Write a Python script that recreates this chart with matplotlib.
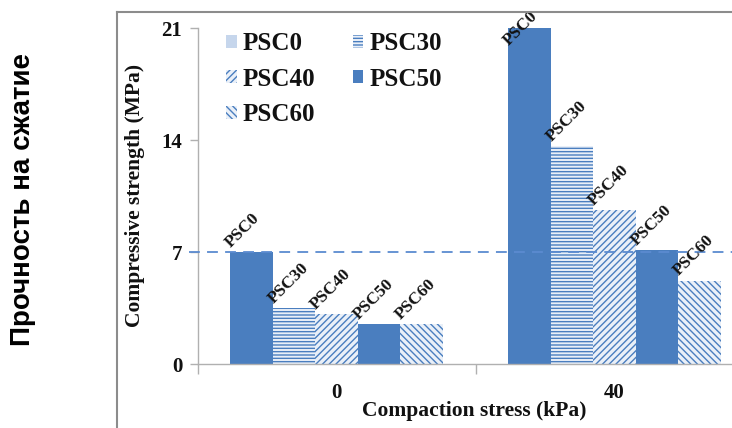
import matplotlib
matplotlib.use("Agg")
import matplotlib.pyplot as plt
from matplotlib.patches import Patch
from matplotlib.lines import Line2D
import numpy as np

# ---- data ----
groups = ["0", "40"]
series = ["PSC0", "PSC30", "PSC40", "PSC50", "PSC60"]
values = {
    "PSC0":  [7.0, 21.0],
    "PSC30": [3.5, 13.6],
    "PSC40": [3.1, 9.6],
    "PSC50": [2.5, 7.1],
    "PSC60": [2.5, 5.2],
}
yticks = [0, 7, 14, 21]
ref_line = 7.0

# ---- styles ----
blue = "#4a7ebf"
light = "#eaf0f8"
styles = {
    "PSC0":  dict(facecolor=blue, edgecolor=blue, hatch=None),
    "PSC30": dict(facecolor=light, edgecolor=blue, hatch="-----"),
    "PSC40": dict(facecolor=light, edgecolor=blue, hatch="/////"),
    "PSC50": dict(facecolor=blue, edgecolor=blue, hatch=None),
    "PSC60": dict(facecolor=light, edgecolor=blue, hatch="\\\\\\\\\\"),
}
legend_styles = dict(styles)
legend_styles["PSC0"] = dict(facecolor="#c6d6ec", edgecolor="#c6d6ec", hatch=None)

plt.rcParams["hatch.linewidth"] = 1.0
serif = "Liberation Serif"

W, H = 732, 428
fig = plt.figure(figsize=(W / 100, H / 100), dpi=100)

def fx(px):
    return px / W

def fy(py):
    return 1 - py / H

ax = fig.add_axes([fx(197.5), fy(364), fx(753.5) - fx(197.5), fy(28) - fy(364)])

x = np.arange(len(groups))
bw = 0.153
for i, s in enumerate(series):
    pos = x + (i - 2) * bw
    st = styles[s]
    ax.bar(pos, values[s], width=bw, facecolor=st["facecolor"], edgecolor=st["edgecolor"],
           hatch=st["hatch"], linewidth=0, zorder=2)
    for p, v in zip(pos, values[s]):
        # the label of the tallest bar sits over the bar top to stay inside the frame
        dy = -1.3 if v >= 20 else 0.1
        ax.text(p - bw / 2 + 0.012, v + dy, s, rotation=45, rotation_mode="anchor",
                ha="left", va="bottom", fontsize=12.5, fontweight="bold", family=serif,
                color="#111111", zorder=4)

ax.axhline(ref_line, xmin=-0.015, xmax=1, color="#5b8bd0", lw=1.3, ls=(0, (6, 4)),
           clip_on=False, zorder=3)

ax.set_xlim(-0.5, 1.5)
ax.set_ylim(0, 21)
ax.set_yticks(yticks)
ax.set_yticklabels([str(t) for t in yticks])
ax.set_xticks(x)
ax.set_xticklabels(groups)
ax.set_xticks([-0.5, 0.5, 1.5], minor=True)
ax.tick_params(axis="x", which="major", length=0, pad=14)
ax.tick_params(axis="x", which="minor", length=7, color="#b0b0b0", width=1)
ax.tick_params(axis="y", which="major", length=6, color="#b0b0b0", width=1, pad=5)
for lab in ax.get_xticklabels() + ax.get_yticklabels():
    lab.set_fontfamily(serif)
    lab.set_fontweight("bold")
    lab.set_fontsize(15)
    lab.set_color("#111111")

for sp in ["top", "right"]:
    ax.spines[sp].set_visible(False)
for sp in ["left", "bottom"]:
    ax.spines[sp].set_color("#b0b0b0")
    ax.spines[sp].set_linewidth(1)

# axis labels placed in figure coordinates
fig.text(fx(474), fy(411), "Compaction stress (kPa)", ha="center", va="center",
         fontsize=15.5, fontweight="bold", family=serif, color="#111111")
fig.text(fx(135), fy(195), "Compressive strength (MPa)", ha="center", va="center",
         rotation=90, fontsize=15.5, fontweight="bold", family=serif, color="#111111")

# Russian label outside the embedded image
fig.text(fx(23), fy(199), "Прочность на сжатие", ha="center", va="center", rotation=90,
         fontsize=20, fontweight="bold", family=["Liberation Sans", "DejaVu Sans"],
         color="black")

# gray border of the embedded image
fig.add_artist(Line2D([fx(117), 1.0], [fy(12), fy(12)], color="#8c8c8c", lw=1.5,
                      transform=fig.transFigure))
fig.add_artist(Line2D([fx(117), fx(117)], [fy(12), 0.0], color="#8c8c8c", lw=1.5,
                      transform=fig.transFigure))

# legend (row-wise order)
order = ["PSC0", "PSC40", "PSC60", "PSC30", "PSC50"]
handles = []
for s in order:
    st = legend_styles[s]
    handles.append(Patch(facecolor=st["facecolor"], edgecolor=st["edgecolor"],
                         hatch=st["hatch"], linewidth=0, label=s))
leg = fig.legend(handles=handles, loc="upper left", bbox_to_anchor=(fx(226), fy(32)),
                 bbox_transform=fig.transFigure, ncol=2, frameon=False,
                 prop={"family": serif, "weight": "bold", "size": 18},
                 handlelength=0.42, handleheight=0.42, handletextpad=0.25,
                 columnspacing=1.5, labelspacing=0.5, borderpad=0, borderaxespad=0)
for t in leg.get_texts():
    t.set_color("#111111")

fig.savefig("out.png", dpi=100)
